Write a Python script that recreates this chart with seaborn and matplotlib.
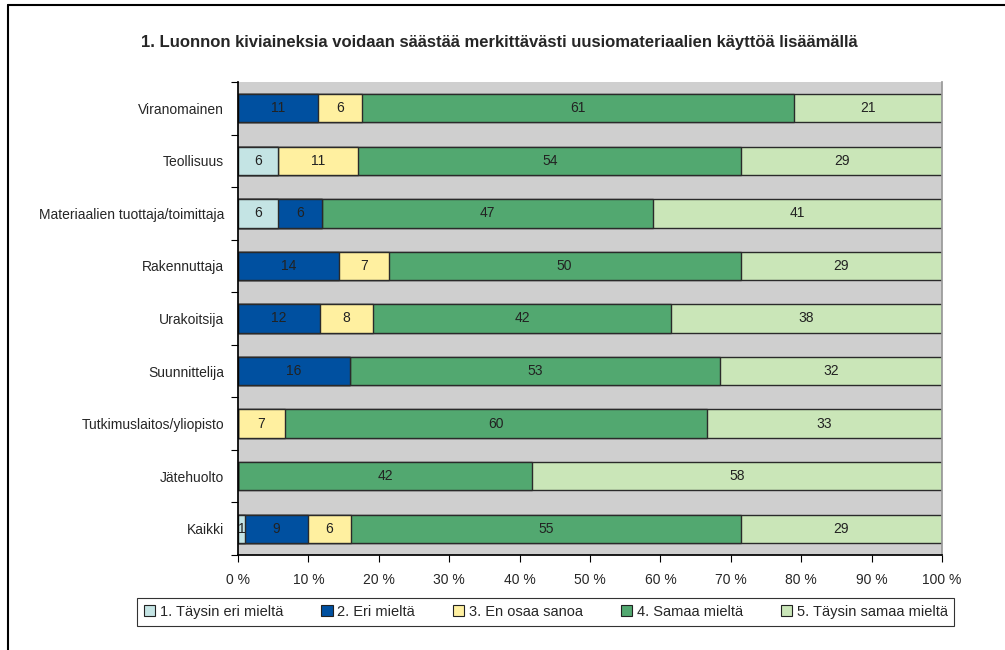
import numpy as np
import matplotlib
matplotlib.use("Agg")
import matplotlib.pyplot as plt
import seaborn as sns
from matplotlib.patches import Patch
from matplotlib.lines import Line2D

# data (percent shares per group)
groups = ["Viranomainen", "Teollisuus", "Materiaalien tuottaja/toimittaja",
          "Rakennuttaja", "Urakoitsija", "Suunnittelija",
          "Tutkimuslaitos/yliopisto", "Jätehuolto", "Kaikki"]
taysin_eri = [0.0, 5.7, 5.7, 0.0, 0.0, 0.0, 0.0, 0.0, 1.0]
eri = [11.4, 0.0, 6.2, 14.3, 11.6, 15.9, 0.0, 0.0, 8.9]
en_osaa = [6.2, 11.4, 0.0, 7.1, 7.6, 0.0, 6.7, 0.0, 6.2]
samaa = [61.4, 54.4, 47.0, 50.0, 42.3, 52.6, 59.9, 41.8, 55.3]
taysin_samaa = [21.0, 28.6, 41.1, 28.6, 38.5, 31.5, 33.4, 58.2, 28.6]

series_names = ["1. Täysin eri mieltä", "2. Eri mieltä", "3. En osaa sanoa",
                "4. Samaa mieltä", "5. Täysin samaa mieltä"]
colors = ["#C4E4E4", "#0050A0", "#FFF0A0", "#52A870", "#CAE6B8"]
title = "1. Luonnon kiviaineksia voidaan säästää merkittävästi uusiomateriaalien käyttöä lisäämällä"

sns.set_theme(style="white")
plt.rcParams["font.family"] = ["Liberation Sans", "DejaVu Sans"]

series = np.array([taysin_eri, eri, en_osaa, samaa, taysin_samaa])
cum = np.cumsum(series, axis=0)
left = cum - series

fig = plt.figure(figsize=(10.05, 6.5), dpi=100)
ax = fig.add_axes([0.2368, 0.1462, 0.7005, 0.7276])
ax.set_facecolor("#CFCFCF")

# stacked bars: draw the cumulative totals from the widest to the narrowest
for k in range(len(series) - 1, -1, -1):
    sns.barplot(x=cum[k], y=groups, orient="h", color=colors[k], width=0.54,
                edgecolor="#2a2a2a", linewidth=1.0, saturation=1, ax=ax)

for k in range(len(series)):
    for i in range(len(groups)):
        v = series[k, i]
        if v > 0.5:
            ax.text(left[k, i] + v / 2, i, f"{v:.0f}", ha="center", va="center",
                    fontsize=10, color="#222222")

ax.set_xlim(0, 100)
ax.set_ylim(len(groups) - 0.5, -0.5)
ax.set_xticks(np.arange(0, 101, 10))
ax.set_xticklabels([f"{t} %" for t in range(0, 101, 10)], fontsize=10)
ax.set_yticks(range(len(groups)))
ax.set_yticklabels(groups, fontsize=10)
ax.set_yticks(np.arange(-0.5, len(groups), 1), minor=True)
ax.tick_params(axis="y", which="major", left=True, length=0, pad=10)
ax.tick_params(axis="y", which="minor", left=True, length=5, direction="out",
               color="black", width=0.8)
ax.tick_params(axis="x", which="major", bottom=True, length=5, direction="out",
               color="black", width=0.8, pad=8)
ax.set_xlabel("")
ax.set_ylabel("")
ax.spines["top"].set_visible(False)
ax.spines["right"].set_color("#999999")
ax.spines["left"].set_color("black")
ax.spines["bottom"].set_color("black")

fig.text(0.497, 0.935, title, ha="center", va="center", fontsize=12, fontweight="bold")

handles = [Patch(facecolor=c, edgecolor="#222222", linewidth=0.8) for c in colors]
leg = fig.legend(handles, series_names, loc="center", bbox_to_anchor=(0.543, 0.0585),
                 ncol=5, fontsize=10.5, frameon=True, fancybox=False,
                 handlelength=0.8, handleheight=0.8, handletextpad=0.3,
                 columnspacing=2.6, borderpad=0.45)
leg.get_frame().set_edgecolor("black")
leg.get_frame().set_linewidth(0.8)

# outer frame (left and top edges visible)
fig.add_artist(Line2D([8 / 1005, 8 / 1005], [0, 1 - 5 / 650], color="black", lw=1.5))
fig.add_artist(Line2D([8 / 1005, 1], [1 - 5 / 650, 1 - 5 / 650], color="black", lw=1.5))

fig.savefig("out.png", dpi=100)
